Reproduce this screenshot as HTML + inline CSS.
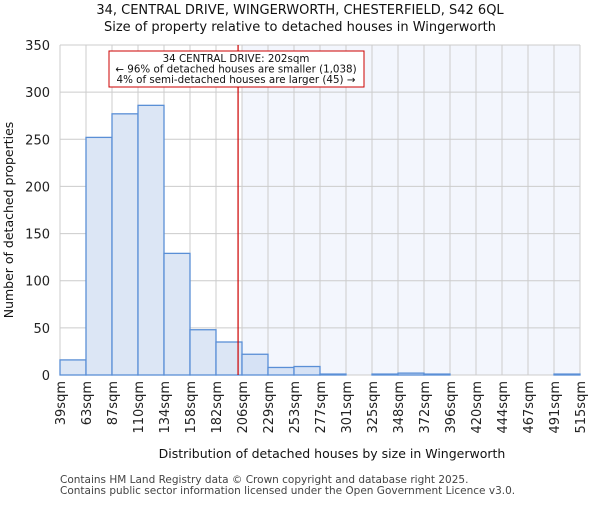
<!DOCTYPE html>
<html><head><meta charset="utf-8"><style>body{margin:0;background:#fff}svg{font-family:"DejaVu Sans","Liberation Sans",sans-serif}</style></head><body>
<svg id="c" width="600" height="500"></svg>
<script>
const binLabels=["39sqm","63sqm","87sqm","110sqm","134sqm","158sqm","182sqm","206sqm","229sqm","253sqm","277sqm","301sqm","325sqm","348sqm","372sqm","396sqm","420sqm","444sqm","467sqm","491sqm","515sqm"];
const counts=[16,252,277,286,129,48,35,22,8,9,1,0,1,2,1,0,0,0,0,1];
const yTicks=[0,50,100,150,200,250,300,350];
const subject=202, xMin=39, xMax=515;
const L=60,R=580,T=45,B=375,ns="http://www.w3.org/2000/svg",svg=document.getElementById('c');
const n=counts.length,bw=(R-L)/n;
const X=v=>L+(v-xMin)/(xMax-xMin)*(R-L);
const Y=v=>B-v/350*(B-T);
function mk(t,a,p){const e=document.createElementNS(ns,t);for(const k in a)e.setAttribute(k,a[k]);(p||svg).appendChild(e);return e;}
const sx=L+7*bw;
let e=mk('rect',{x:sx,y:T,width:R-sx,height:B-T,fill:'#f3f6fd'});


for(let i=0;i<=n;i++){e=mk('line',{x1:L+i*bw,x2:L+i*bw,y1:T,y2:B,stroke:'#cccccc'});

}
yTicks.forEach(t=>{e=mk('line',{x1:L,x2:R,y1:Y(t),y2:Y(t),stroke:'#cccccc'});


e=mk('text',{x:L-10,y:Y(t)+5,'text-anchor':'end','font-size':13,fill:'#222'});e.textContent=t;

});
counts.forEach((c,i)=>{if(c<=0)return;e=mk('rect',{x:L+i*bw,y:Y(c),width:bw,height:B-Y(c),fill:i>=7?'#d6e2f5':'#dce6f5',stroke:'#5a8fd6','stroke-width':1.3});

});
binLabels.forEach((l,i)=>{const x=L+i*bw;e=mk('text',{x:x+5,y:381,'text-anchor':'end','font-size':13,fill:'#222',transform:`rotate(-90 ${x+5} 381)`});e.textContent=l;

});
e=mk('line',{x1:X(subject),x2:X(subject),y1:T,y2:B,stroke:'#cc0000','stroke-width':1.2});


e=mk('rect',{x:109,y:51,width:255,height:36,fill:'#fff',stroke:'#cc0000'});


[["34 CENTRAL DRIVE: 202sqm",62],["← 96% of detached houses are smaller (1,038)",72.5],["4% of semi-detached houses are larger (45) →",83]].forEach(([s,y])=>{e=mk('text',{x:236,y:y,'text-anchor':'middle','font-size':10.3,fill:'#111'});e.textContent=s;

});
[["34, CENTRAL DRIVE, WINGERWORTH, CHESTERFIELD, S42 6QL",14],["Size of property relative to detached houses in Wingerworth",31]].forEach(([s,y])=>{e=mk('text',{x:300,y:y,'text-anchor':'middle','font-size':13,fill:'#111'});e.textContent=s;

});
e=mk('text',{x:332,y:458,'text-anchor':'middle','font-size':12.5,fill:'#111'});e.textContent="Distribution of detached houses by size in Wingerworth";


e=mk('text',{x:13,y:220,'text-anchor':'middle','font-size':12.5,fill:'#111',transform:'rotate(-90 13 220)'});e.textContent="Number of detached properties";


[["Contains HM Land Registry data © Crown copyright and database right 2025.",483],["Contains public sector information licensed under the Open Government Licence v3.0.",494]].forEach(([s,y])=>{e=mk('text',{x:60,y:y,'font-size':10.5,fill:'#444'});e.textContent=s;

});
</script></body></html>
